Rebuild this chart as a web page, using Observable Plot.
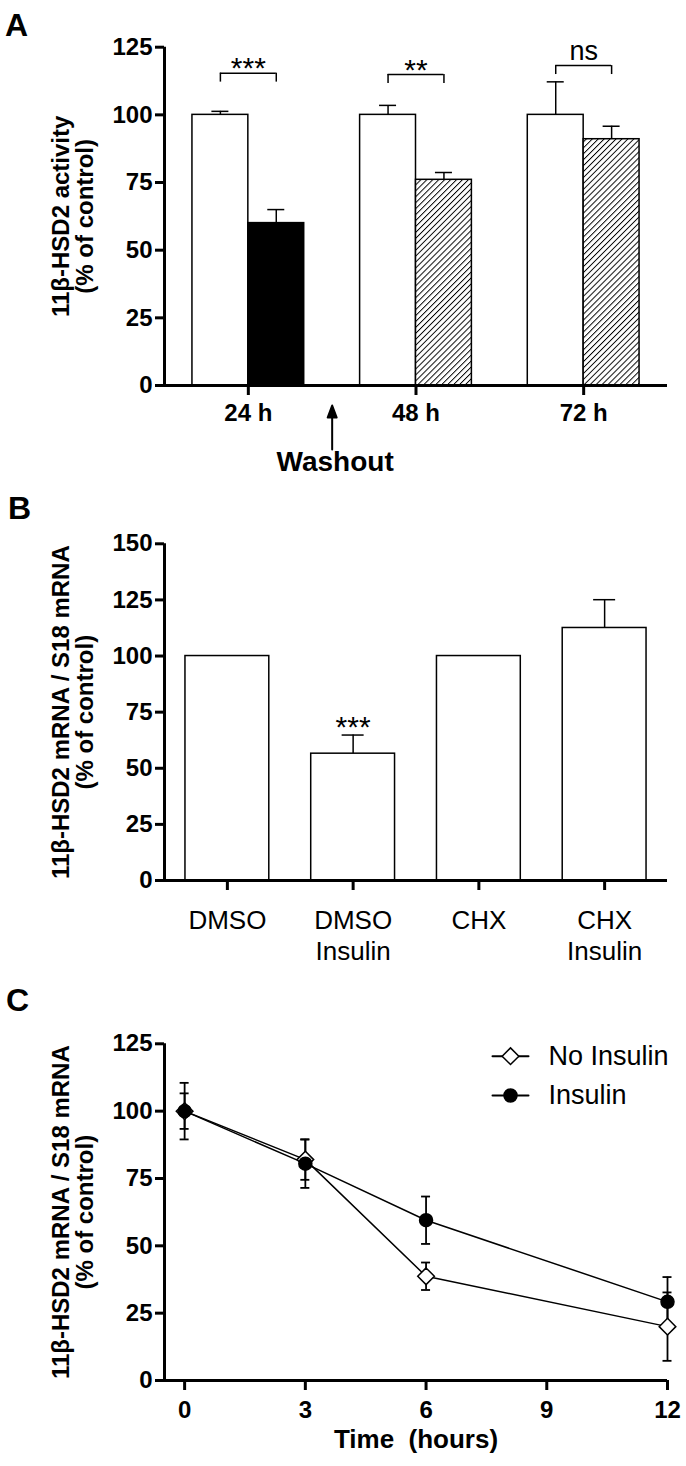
<!DOCTYPE html>
<html><head><meta charset="utf-8">
<script src="https://cdn.jsdelivr.net/npm/d3@7"></script>
<script src="https://cdn.jsdelivr.net/npm/@observablehq/plot@0.6"></script>
<style>
body{margin:0;background:#fff;}
#fig{position:relative;width:686px;height:1466px;font-family:"Liberation Sans",Arial,Helvetica,sans-serif;background:#fff;overflow:hidden;}
.panel{position:absolute;left:0;}
.letter{position:absolute;font-size:32px;font-weight:bold;line-height:1;color:#000;}
</style></head><body><div id="fig"></div>
<script>
// ---------- Panel A data ----------
const aGroups = ["24 h", "48 h", "72 h"];
const aControl = [100, 100, 100];
const aControlErr = [1.3, 3.5, 12.2];
const aTreated = [60, 76, 91];
const aTreatedErr = [5, 2.7, 4.8];
const aSig = ["***", "**", "ns"];
const aSigY = [115.4, 114.9, 118.2];
const aYTicks = [0, 25, 50, 75, 100, 125];
const washoutAt = 0.5; // between "24 h" and "48 h"
const washoutLabel = "Washout";
const aYLabel = "11\u03b2-HSD2 activity\n(% of control)";

// ---------- Panel B data ----------
const bCats = ["DMSO", "DMSO\nInsulin", "CHX", "CHX\nInsulin"];
const bMean = [100, 56.5, 100, 112.5];
const bErr = [0, 8.3, 0, 12.6];
const bSig = ["", "***", "", ""];
const bYTicks = [0, 25, 50, 75, 100, 125, 150];
const bYLabel = "11\u03b2-HSD2 mRNA / S18 mRNA\n(% of control)";

// ---------- Panel C data ----------
const cTime = [0, 3, 6, 12];
const cNoIns = [100, 82, 38.7, 20];
const cNoInsErr = [10.5, 7.5, 5.1, 12.7];
const cIns = [100, 80.5, 59.5, 29.2];
const cInsErr = [6.6, 9, 8.8, 9.2];
const cSeries = ["No Insulin", "Insulin"];
const cXTicks = [0, 3, 6, 9, 12];
const cYTicks = [0, 25, 50, 75, 100, 125];
const cXLabel = "Time\u00a0 (hours)";
const cYLabel = "11\u03b2-HSD2 mRNA / S18 mRNA\n(% of control)";

// ---------- styles ----------
const FONT = '"Liberation Sans", Arial, Helvetica, sans-serif';
const AXW = 3;
const treatedFill = ["black", "url(#hatch)", "url(#hatch)"];
const aBarW = 1 / 3;     // bar width in group units
const bBarHalf = 1 / 3;  // half bar width in category units
const bracketDrop = 3.3;
const seriesStyle = {
  "No Insulin": {symbol: "diamond2", r: 7.5, fill: "white"},
  "Insulin": {symbol: "circle", r: 6.5, fill: "black"}
};

const arrowShape = {draw(ctx, l) {
  ctx.moveTo(0, 0); ctx.lineTo(0, -l + 10);
  ctx.moveTo(-4.5, -l + 12); ctx.lineTo(0, -l); ctx.lineTo(4.5, -l + 12); ctx.closePath();
}};
const lineShape = {draw(ctx, l) { ctx.moveTo(0, 0); ctx.lineTo(0, -l); }};

const fig = document.getElementById("fig");
function place(svg, top) {
  const d = document.createElement("div");
  d.className = "panel"; d.style.top = top + "px";
  d.appendChild(svg); fig.appendChild(d);
}
function letter(t, left, top) {
  const d = document.createElement("div");
  d.className = "letter"; d.textContent = t;
  d.style.left = left + "px"; d.style.top = top + "px";
  fig.appendChild(d);
}
const common = {width: 686, marginLeft: 164, marginRight: 19, style: {fontFamily: FONT, overflow: "visible", background: "transparent", color: "black"}};
const yTitle = (label) => Plot.text([label], {frameAnchor: "left", textAnchor: "middle", lineAnchor: "middle", rotate: -90, dx: -91, text: d => d, fontSize: 24, fontWeight: "bold", lineHeight: 1.0});

// ---------- Panel A ----------
const aRows = aGroups.map((g, i) => ({i, g, c: aControl[i], ce: aControlErr[i], t: aTreated[i], te: aTreatedErr[i], sig: aSig[i], sy: aSigY[i]}));
const aXDom = [-0.5, aGroups.length - 0.5];
const svgA = Plot.plot({
  ...common, height: 490, marginTop: 46.7, marginBottom: 105,
  x: {domain: aXDom}, y: {domain: [0, d3.max(aYTicks)]},
  color: {type: "identity"},
  marks: [
    Plot.ruleX(aRows, {x: d => d.i - aBarW / 2, y1: "c", y2: d => d.c + d.ce, strokeWidth: 1.5}),
    Plot.ruleY(aRows, {x1: d => d.i - aBarW / 2, x2: d => d.i - aBarW / 2, y: d => d.c + d.ce, insetLeft: -8.5, insetRight: -8.5, strokeWidth: 1.5}),
    Plot.ruleX(aRows, {x: d => d.i + aBarW / 2, y1: "t", y2: d => d.t + d.te, strokeWidth: 1.5}),
    Plot.ruleY(aRows, {x1: d => d.i + aBarW / 2, x2: d => d.i + aBarW / 2, y: d => d.t + d.te, insetLeft: -8.5, insetRight: -8.5, strokeWidth: 1.5}),
    Plot.rectY(aRows, {x1: d => d.i - aBarW, x2: d => d.i, y1: 0, y2: "c", fill: "white", stroke: "black", strokeWidth: 1.5}),
    Plot.rectY(aRows, {x1: d => d.i, x2: d => d.i + aBarW, y1: 0, y2: "t", fill: d => treatedFill[d.i], stroke: "black", strokeWidth: 1.5}),
    // significance brackets
    Plot.ruleY(aRows, {x1: d => d.i - aBarW / 2, x2: d => d.i + aBarW / 2, y: "sy", strokeWidth: 1.5}),
    Plot.ruleX(aRows, {x: d => d.i - aBarW / 2, y1: "sy", y2: d => d.sy - bracketDrop, strokeWidth: 1.5}),
    Plot.ruleX(aRows, {x: d => d.i + aBarW / 2, y1: "sy", y2: d => d.sy - bracketDrop, strokeWidth: 1.5}),
    Plot.text(aRows.filter(d => d.sig.startsWith("*")), {x: "i", y: "sy", text: "sig", lineAnchor: "bottom", dy: 5, fontSize: 30}),
    Plot.text(aRows.filter(d => !d.sig.startsWith("*")), {x: "i", y: "sy", text: "sig", lineAnchor: "bottom", dy: -6, fontSize: 27}),
    // axes
    Plot.ruleY([0], {strokeWidth: AXW}),
    Plot.ruleX([aXDom[0]], {y1: 0, y2: d3.max(aYTicks), strokeWidth: AXW}),
    Plot.axisY({ticks: aYTicks, tickSize: 9, tickPadding: 3, fontSize: 24, fontWeight: "bold", strokeWidth: AXW, label: null}),
    Plot.axisX({ticks: aGroups.map((g, i) => i), tickFormat: i => aGroups[i], tickSize: 10, tickPadding: 8, fontSize: 24, fontWeight: "bold", strokeWidth: AXW, label: null}),
    yTitle(aYLabel),
    // washout annotation
    Plot.vector([washoutAt], {x: d => d, frameAnchor: "bottom", dy: 64, length: 44, rotate: 0, anchor: "start", shape: arrowShape, stroke: "black", fill: "black", strokeWidth: 2}),
    Plot.text([washoutLabel], {x: () => washoutAt, frameAnchor: "bottom", dy: 85, dx: 3, text: d => d, fontSize: 28, fontWeight: "bold"})
  ]
});
d3.select(svgA).append("defs").html('<pattern id="hatch" patternUnits="userSpaceOnUse" width="4.2" height="4.2" patternTransform="rotate(45)"><rect width="4.2" height="4.2" fill="white"/><line x1="0" y1="0" x2="0" y2="4.2" stroke="black" stroke-width="1.9"/></pattern>');
place(svgA, 0);

// ---------- Panel B ----------
const bRows = bCats.map((c, i) => ({i, c, m: bMean[i], e: bErr[i], sig: bSig[i]}));
const bXDom = [-0.5, bCats.length - 0.5];
const svgB = Plot.plot({
  ...common, height: 480, marginTop: 53.3, marginBottom: 90,
  x: {domain: bXDom}, y: {domain: [0, d3.max(bYTicks)]},
  marks: [
    Plot.ruleX(bRows.filter(d => d.e > 0), {x: "i", y1: "m", y2: d => d.m + d.e, strokeWidth: 1.5}),
    Plot.ruleY(bRows.filter(d => d.e > 0), {x1: "i", x2: "i", y: d => d.m + d.e, insetLeft: -11, insetRight: -11, strokeWidth: 1.5}),
    Plot.rectY(bRows, {x1: d => d.i - bBarHalf, x2: d => d.i + bBarHalf, y1: 0, y2: "m", fill: "white", stroke: "black", strokeWidth: 1.5}),
    Plot.text(bRows.filter(d => d.sig), {x: "i", y: d => d.m + d.e, text: "sig", lineAnchor: "bottom", dy: 2, fontSize: 30}),
    Plot.ruleY([0], {strokeWidth: AXW}),
    Plot.ruleX([bXDom[0]], {y1: 0, y2: d3.max(bYTicks), strokeWidth: AXW}),
    Plot.axisY({ticks: bYTicks, tickSize: 9, tickPadding: 3, fontSize: 24, fontWeight: "bold", strokeWidth: AXW, label: null}),
    Plot.axisX({ticks: bCats.map((c, i) => i), tickFormat: i => bCats[i], tickSize: 10, tickPadding: 16, fontSize: 26, lineHeight: 1.2, strokeWidth: AXW, label: null}),
    yTitle(bYLabel)
  ]
});
place(svgB, 490);

// ---------- Panel C ----------
const cRows = cTime.flatMap((t, k) => [
  {s: cSeries[0], t, m: cNoIns[k], e: cNoInsErr[k]},
  {s: cSeries[1], t, m: cIns[k], e: cInsErr[k]}
]);
const cXDom = [-0.5, d3.max(cXTicks)];
const legendDy = [12.4, 51.7];
const svgC = Plot.plot({
  ...common, height: 496, marginTop: 73.3, marginBottom: 86,
  x: {domain: cXDom}, y: {domain: [0, d3.max(cYTicks)]},
  marks: [
    Plot.line(cRows, {x: "t", y: "m", z: "s", stroke: "black", strokeWidth: 1.5}),
    Plot.ruleX(cRows, {x: "t", y1: d => d.m - d.e, y2: d => d.m + d.e, strokeWidth: 1.8}),
    Plot.ruleY(cRows, {x1: "t", x2: "t", y: d => d.m + d.e, insetLeft: -4.5, insetRight: -4.5, strokeWidth: 1.8}),
    Plot.ruleY(cRows, {x1: "t", x2: "t", y: d => d.m - d.e, insetLeft: -4.5, insetRight: -4.5, strokeWidth: 1.8}),
    ...cSeries.map(s => Plot.dot(cRows.filter(d => d.s === s), {x: "t", y: "m", symbol: seriesStyle[s].symbol, r: seriesStyle[s].r, fill: seriesStyle[s].fill, stroke: "black", strokeWidth: 1.5})),
    // legend
    ...cSeries.flatMap((s, k) => [
      Plot.vector([s], {frameAnchor: "top-left", dx: 346, dy: legendDy[k], rotate: 90, length: 36, anchor: "middle", shape: lineShape, stroke: "black", strokeWidth: 2}),
      Plot.dot([s], {frameAnchor: "top-left", dx: 346, dy: legendDy[k], symbol: seriesStyle[s].symbol, r: seriesStyle[s].r, fill: seriesStyle[s].fill, stroke: "black", strokeWidth: 1.5}),
      Plot.text([s], {frameAnchor: "top-left", dx: 384, dy: legendDy[k], text: d => d, textAnchor: "start", lineAnchor: "middle", fontSize: 27})
    ]),
    Plot.ruleY([0], {strokeWidth: AXW}),
    Plot.ruleX([cXDom[0]], {y1: 0, y2: d3.max(cYTicks), strokeWidth: AXW}),
    Plot.axisY({ticks: cYTicks, tickSize: 9, tickPadding: 3, fontSize: 24, fontWeight: "bold", strokeWidth: AXW, label: null}),
    Plot.axisX({ticks: cXTicks, tickSize: 10, tickPadding: 10, fontSize: 24, fontWeight: "bold", strokeWidth: AXW, label: null}),
    Plot.text([cXLabel], {frameAnchor: "bottom", dy: 67, text: d => d, fontSize: 26, fontWeight: "bold"}),
    yTitle(cYLabel)
  ]
});
place(svgC, 970);

letter("A", 5, 9);
letter("B", 8, 492);
letter("C", 6, 984);
</script></body></html>
